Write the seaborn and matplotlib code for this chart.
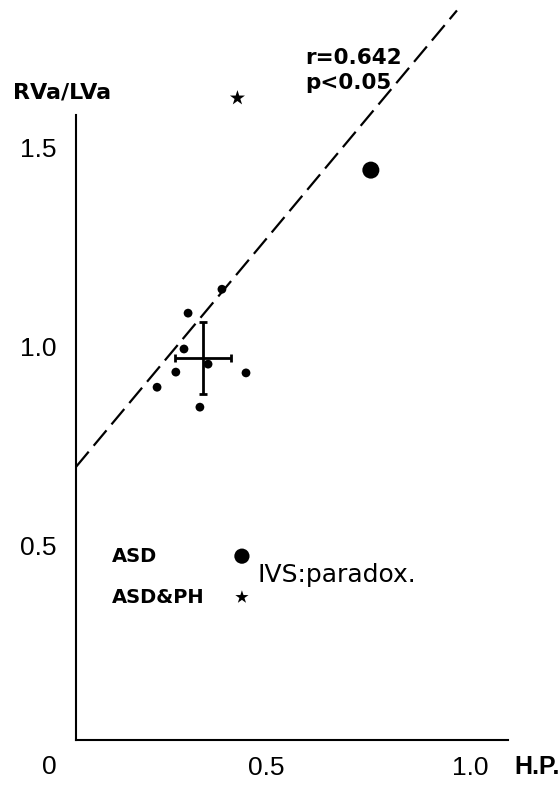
import matplotlib.pyplot as plt
import numpy as np
import pandas as pd
import seaborn as sns

## Data
# small dots: individual patients (H.P. vs RVa/LVa)
hp = [0.392, 0.309, 0.299, 0.358, 0.279, 0.233, 0.451, 0.338]
ratio = [1.144, 1.084, 0.994, 0.956, 0.936, 0.898, 0.934, 0.848]

# ASD (big dot) and ASD&PH (star) cases with paradoxical IVS
asd_hp, asd_ratio = [0.757], [1.443]
ph_hp, ph_ratio = [0.43], [1.624]

# mean +/- SD of the small dots
mean_hp, mean_ratio = [0.346], [0.971]
sd_hp, sd_ratio = [0.068], [0.09]

# regression line
fit_intercept, fit_slope = 0.656, 1.227
fit_range = [0.034, 0.968]

# key symbols
key_hp = [0.441, 0.441]
key_ratio = [0.474, 0.371]

x_ticks = [0.5, 1.0]
y_ticks = [0.5, 1.0, 1.5]

sns.set_style("white")
plt.rcParams["font.family"] = ["Liberation Sans", "DejaVu Sans"]
plt.rcParams["text.color"] = "black"
plt.rcParams["xtick.color"] = "black"
plt.rcParams["ytick.color"] = "black"

fig = plt.figure(figsize=(5.59, 7.85), dpi=100)
ax = fig.add_axes([62 / 559, 40 / 785, 489.6 / 559, 745 / 785])
ax.set_xlim(0, 1.2)
ax.set_ylim(0, 1.87)

# spines like the hand drawn axes
for side in ["top", "right"]:
    ax.spines[side].set_visible(False)
ax.spines["left"].set_position(("data", 0.034))
ax.spines["left"].set_bounds(0.013, 1.581)
ax.spines["bottom"].set_position(("data", 0.013))
ax.spines["bottom"].set_bounds(0.034, 1.093)
for side in ["left", "bottom"]:
    ax.spines[side].set_color("black")
    ax.spines[side].set_linewidth(1.5)

# regression line
fx = np.array(fit_range)
ax.plot(fx, fit_intercept + fit_slope * fx, color="black", lw=1.6,
        linestyle=(0, (9, 3.5)), clip_on=False)

pts = pd.DataFrame({"hp": hp, "ratio": ratio})
sns.scatterplot(data=pts, x="hp", y="ratio", color="black", s=40,
                edgecolor="none", ax=ax)
sns.scatterplot(x=asd_hp, y=asd_ratio, color="black", s=150,
                edgecolor="none", ax=ax)
sns.scatterplot(x=ph_hp, y=ph_ratio, color="black", marker="*", s=130,
                edgecolor="none", ax=ax)

ax.errorbar(mean_hp, mean_ratio, xerr=sd_hp, yerr=sd_ratio, fmt="none",
            ecolor="black", elinewidth=2, capsize=3, capthick=2)

# key
sns.scatterplot(x=key_hp[:1], y=key_ratio[:1], color="black", s=120,
                edgecolor="none", ax=ax)
sns.scatterplot(x=key_hp[1:], y=key_ratio[1:], color="black", marker="*",
                s=100, edgecolor="none", ax=ax)
ax.text(0.123, key_ratio[0], "ASD", fontsize=14, fontweight="bold",
        family="DejaVu Sans", va="center", ha="left")
ax.text(0.123, key_ratio[1], "ASD&PH", fontsize=14, fontweight="bold",
        family="DejaVu Sans", va="center", ha="left")
ax.text(0.480, 0.427, "IVS:paradox.", fontsize=18,
        family="DejaVu Sans", va="center", ha="left")

ax.text(0.596, 1.724, "r=0.642", fontsize=15.5, fontweight="bold",
        family="DejaVu Sans", va="center", ha="left")
ax.text(0.596, 1.661, "p<0.05", fontsize=15.5, fontweight="bold",
        family="DejaVu Sans", va="center", ha="left")

# ticks and axis titles
ax.set_xticks(x_ticks)
ax.set_xticklabels(["0.5", "1.0"])
ax.set_yticks(y_ticks)
ax.set_yticklabels(["0.5", "1.0", "1.5"])
ax.tick_params(axis="x", length=0, pad=12, labelsize=19)
ax.tick_params(axis="y", length=0, pad=14, labelsize=19)
ax.set_xlabel("")
ax.set_ylabel("")

ax.text(-0.032, -0.055, "0", fontsize=19, ha="center", va="center",
        clip_on=False)
ax.text(1.164, -0.055, "H.P.", fontsize=18, fontweight="bold", ha="center",
        va="center", clip_on=False)
ax.text(0.0, 1.639, "RVa/LVa", fontsize=16, fontweight="bold",
        family="DejaVu Sans", ha="center", va="center", clip_on=False)

fig.savefig("out.png", dpi=100)
